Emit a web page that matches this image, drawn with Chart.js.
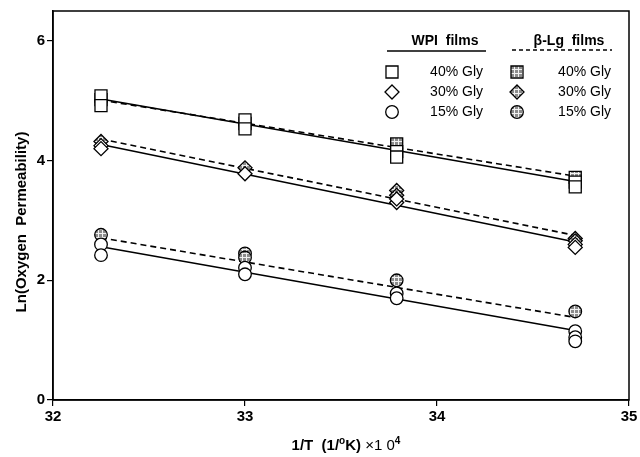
<!DOCTYPE html>
<html><head><meta charset="utf-8">
<script src="https://cdn.jsdelivr.net/npm/chart.js@4/dist/chart.umd.min.js"></script>
<style>html,body{margin:0;padding:0;background:#fff}#wrap{width:640px;height:457px}</style>
</head><body><div id="wrap"><canvas id="c" width="640" height="457"></canvas></div>
<script>
// ---- data ----
const xCols = [32.25, 33.0, 33.79, 34.72];
const xTicks = [32, 33, 34, 35];
const yTicks = [0, 2, 4, 6];
// replicate readings per temperature column
const wpi40 = [[5.08, 4.92], [4.68, 4.53], [4.15, 4.06], [3.64, 3.56]];
const blg40 = [[5.02], [4.62], [4.28], [3.72]];
const wpi30 = [[4.25, 4.20], [3.78], [3.30, 3.36], [2.60, 2.55]];
const blg30 = [[4.32], [3.88], [3.50, 3.42], [2.70, 2.66]];
const wpi15 = [[2.60, 2.42], [2.21, 2.10], [1.78, 1.70], [1.15, 1.05, 0.98]];
const blg15 = [[2.76], [2.45, 2.38], [2.00], [1.48]];
// fitted regression lines (end values)
const fitX = [32.25, 34.72];
const wpi40Fit = [5.03, 3.65];
const blg40Fit = [5.01, 3.74];
const wpi30Fit = [4.27, 2.64];
const blg30Fit = [4.36, 2.75];
const wpi15Fit = [2.56, 1.16];
const blg15Fit = [2.71, 1.38];
const rowLabels = ['40% Gly', '30% Gly', '15% Gly'];

function pts(series) {
  const out = [];
  series.forEach((vals, i) => vals.forEach(v => out.push({x: xCols[i], y: v})));
  return out;
}
function line(vals) { return fitX.map((x, i) => ({x: x, y: vals[i]})); }

const canvas = document.getElementById('c');
const mainCtx = canvas.getContext('2d');
const pc = document.createElement('canvas'); pc.width = 4; pc.height = 4;
const pctx = pc.getContext('2d');
pctx.fillStyle = '#8c8c8c'; pctx.fillRect(0, 0, 4, 4);
pctx.fillStyle = '#f2f2f2'; pctx.fillRect(0, 1, 4, 1); pctx.fillRect(2, 0, 1, 4);
const hatch = mainCtx.createPattern(pc, 'repeat');

const FONT = "'Liberation Sans', Arial, sans-serif";
const styles = [
  {style: 'rect', r: 8.5},
  {style: 'rectRot', r: 7},
  {style: 'circle', r: 6.3}
];

function ptDs(data, st, filled) {
  return {
    type: 'scatter', data: pts(data), showLine: false, order: 0,
    pointStyle: st.style, pointRadius: st.r, pointHoverRadius: st.r,
    pointBackgroundColor: filled ? hatch : '#fff', pointBorderColor: '#000', pointBorderWidth: 1.3
  };
}
function lnDs(data, dashed) {
  return {
    type: 'line', data: line(data), showLine: true, order: 1, pointRadius: 0,
    borderColor: '#000', borderWidth: 1.6, borderDash: dashed ? [6, 4] : [], fill: false
  };
}

// shape drawer for the legend
function shape(ctx, st, x, y, fill) {
  ctx.save();
  ctx.beginPath();
  const r = st.r;
  if (st.style === 'rect') { const s = r * Math.SQRT1_2; ctx.rect(x - s, y - s, 2 * s, 2 * s); }
  else if (st.style === 'rectRot') { ctx.moveTo(x, y - r); ctx.lineTo(x + r, y); ctx.lineTo(x, y + r); ctx.lineTo(x - r, y); ctx.closePath(); }
  else { ctx.arc(x, y, r, 0, Math.PI * 2); }
  ctx.fillStyle = fill; ctx.fill();
  ctx.lineWidth = 1.3; ctx.strokeStyle = '#000'; ctx.stroke();
  ctx.restore();
}

const decor = {
  id: 'decor',
  afterDraw(chart) {
    const ctx = chart.ctx, a = chart.chartArea;
    ctx.save();
    ctx.strokeStyle = '#000'; ctx.lineWidth = 1.5;
    ctx.strokeRect(a.left, a.top, a.right - a.left, a.bottom - a.top);
    // legend
    ctx.fillStyle = '#000';
    ctx.textBaseline = 'middle';
    ctx.font = 'bold 14px ' + FONT;
    ctx.textAlign = 'center';
    ctx.fillText('WPI  films', 445, 41);
    ctx.fillText('\u03B2-Lg  films', 569, 41);
    ctx.lineWidth = 1.5;
    ctx.beginPath(); ctx.moveTo(387, 51); ctx.lineTo(486, 51); ctx.stroke();
    ctx.setLineDash([4, 3]);
    ctx.beginPath(); ctx.moveTo(512, 50); ctx.lineTo(612, 50); ctx.stroke();
    ctx.setLineDash([]);
    ctx.font = '14px ' + FONT;
    ctx.textAlign = 'right';
    const rows = [72, 92, 112];
    rows.forEach((yy, i) => {
      shape(ctx, styles[i], 392, yy, '#fff');
      ctx.fillStyle = '#000'; ctx.fillText(rowLabels[i], 483, yy);
      shape(ctx, styles[i], 517, yy, hatch);
      ctx.fillStyle = '#000'; ctx.fillText(rowLabels[i], 611, yy);
    });
    // y title
    ctx.save();
    ctx.translate(22, 222);
    ctx.rotate(-Math.PI / 2);
    ctx.textAlign = 'center';
    ctx.font = 'bold 15px ' + FONT;
    ctx.fillText('Ln(Oxygen  Permeability)', 0, 0);
    ctx.restore();
    // x title with superscripts
    const segs = [
      {t: '1/T  (1/', f: 'bold 15px ' + FONT, dy: 0},
      {t: 'o', f: 'bold 10px ' + FONT, dy: -5},
      {t: 'K) ', f: 'bold 15px ' + FONT, dy: 0},
      {t: '\u00D71 0', f: '15px ' + FONT, dy: 0},
      {t: '4', f: 'bold 10px ' + FONT, dy: -5}
    ];
    let total = 0;
    segs.forEach(s => { ctx.font = s.f; s.w = ctx.measureText(s.t).width; total += s.w; });
    let xx = 346 - total / 2;
    ctx.textAlign = 'left';
    segs.forEach(s => { ctx.font = s.f; ctx.fillText(s.t, xx, 446 + s.dy); xx += s.w; });
    ctx.restore();
  }
};

new Chart(canvas, {
  type: 'scatter',
  data: {
    datasets: [
      ptDs(wpi40, styles[0], false), ptDs(blg40, styles[0], true),
      ptDs(wpi30, styles[1], false), ptDs(blg30, styles[1], true),
      ptDs(wpi15, styles[2], false), ptDs(blg15, styles[2], true),
      lnDs(wpi40Fit, false), lnDs(blg40Fit, true),
      lnDs(wpi30Fit, false), lnDs(blg30Fit, true),
      lnDs(wpi15Fit, false), lnDs(blg15Fit, true)
    ]
  },
  options: {
    responsive: false, animation: false, devicePixelRatio: 1,
    layout: {padding: {top: 11, right: 11, left: 0, bottom: 0}},
    plugins: {legend: {display: false}, tooltip: {enabled: false}},
    scales: {
      x: {
        type: 'linear', min: 32, max: 35,
        afterBuildTicks: s => { s.ticks = xTicks.map(v => ({value: v})); },
        afterFit: s => { s.height = 57; },
        ticks: {color: '#000', font: {family: FONT, size: 15, weight: 'bold'}, padding: 2, maxRotation: 0},
        grid: {drawOnChartArea: false, drawTicks: true, tickLength: 6, color: '#000', lineWidth: 1.2},
        border: {display: true, color: '#000', width: 1.5}
      },
      y: {
        type: 'linear', min: 0, max: 6.5,
        afterBuildTicks: s => { s.ticks = yTicks.map(v => ({value: v})); },
        afterFit: s => { s.width = 53; },
        ticks: {color: '#000', font: {family: FONT, size: 15, weight: 'bold'}, padding: 2},
        grid: {drawOnChartArea: false, drawTicks: true, tickLength: 6, color: '#000', lineWidth: 1.2},
        border: {display: true, color: '#000', width: 1.5}
      }
    }
  },
  plugins: [decor]
});
</script>
</body></html>
